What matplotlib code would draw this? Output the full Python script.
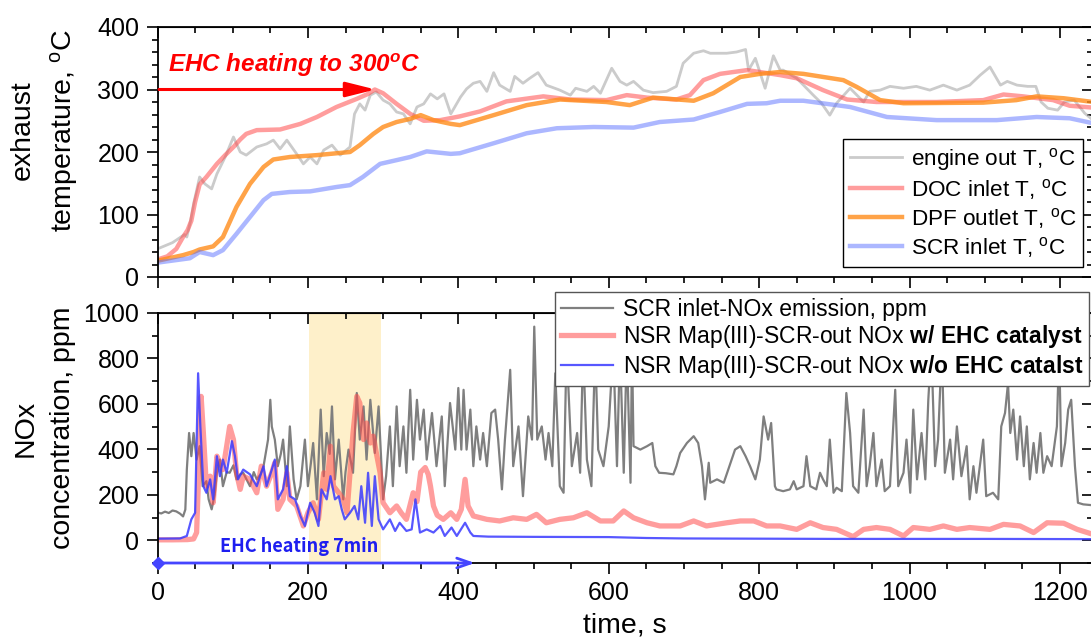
import numpy as np
import matplotlib.pyplot as plt
from matplotlib.ticker import MultipleLocator, NullFormatter

plt.rcParams['font.family'] = ['Liberation Sans', 'DejaVu Sans']
plt.rcParams['mathtext.fontset'] = 'custom'
plt.rcParams['mathtext.rm'] = 'Liberation Sans'
plt.rcParams['mathtext.it'] = 'Liberation Sans:italic:bold'
plt.rcParams['mathtext.bf'] = 'Liberation Sans:bold'

# ---- exhaust temperatures (deg C) ----
t_eng = [0, 20, 36, 39, 44, 48, 56, 63, 72, 79, 90, 101, 110, 118, 132, 145, 154, 163, 172, 185,
         194, 203, 212, 221, 232, 243, 256, 262, 269, 276, 283, 291, 300, 309, 318, 327, 336, 345,
         354, 363, 372, 381, 390, 403, 411, 420, 429, 438, 447, 455, 469, 475, 486, 495, 506, 517,
         535, 549, 556, 571, 580, 589, 604, 615, 624, 633, 646, 659, 677, 690, 699, 713, 726, 735,
         757, 770, 782, 786, 795, 808, 819, 828, 832, 850, 859, 872, 883, 894, 903, 921, 930, 939,
         947, 961, 974, 992, 1009, 1027, 1045, 1063, 1080, 1094, 1107, 1121, 1130, 1143, 1157,
         1168, 1175, 1184, 1197, 1206, 1219, 1233, 1244]
T_eng = [45, 55, 68, 64, 90, 117, 160, 149, 141, 165, 192, 224, 200, 195, 208, 213, 219, 205, 219, 197,
         181, 192, 181, 203, 211, 195, 208, 261, 277, 267, 291, 296, 283, 277, 264, 261, 245, 272,
         277, 293, 285, 293, 261, 288, 301, 310, 313, 297, 327, 307, 297, 321, 310, 318, 327, 307,
         299, 291, 302, 297, 305, 294, 334, 313, 307, 313, 299, 295, 297, 305, 342, 358, 362, 358,
         358, 360, 364, 331, 350, 302, 354, 331, 331, 318, 307, 291, 278, 259, 278, 302, 291, 280,
         297, 299, 305, 302, 305, 299, 307, 299, 307, 323, 336, 307, 313, 307, 305,
         305, 280, 270, 267, 280, 283, 262, 251]

t_doc = [0, 13, 25, 34, 40, 45, 50, 56, 65, 79, 90, 101, 110, 118, 132, 163, 190, 212, 238, 265, 280,
         289, 300, 318, 336, 354, 376, 402, 429, 464, 513, 549, 597, 624, 651, 690, 708, 726, 748,
         784, 801, 828, 850, 885, 917, 956, 1036, 1098, 1125, 1151, 1191, 1213, 1244]
T_doc = [28, 33, 45, 64, 75, 90, 120, 148, 160, 181, 195, 208, 220, 229, 235, 236, 245, 256, 272, 285, 293,
         300, 294, 277, 261, 250, 251, 257, 265, 281, 289, 284, 283, 291, 287, 284, 291, 315, 325,
         331, 328, 323, 318, 299, 284, 280, 280, 283, 292, 289, 283, 274, 271]

t_dpf = [0, 34, 48, 56, 74, 87, 105, 123, 141, 154, 176, 212, 256, 269, 287, 300, 318, 336, 350, 367,
         390, 402, 447, 491, 535, 597, 628, 659, 713, 739, 775, 801, 828, 859, 912, 930, 961, 992,
         1098, 1142, 1169, 1205, 1244]
T_dpf = [26, 35, 40, 44, 49, 64, 112, 149, 176, 188, 192, 195, 200, 211, 229, 240, 248, 253, 259, 251,
         245, 243, 259, 275, 284, 280, 275, 287, 282, 294, 320, 325, 328, 325, 315, 304, 283, 278,
         279, 283, 289, 286, 280]

t_scr = [0, 43, 56, 74, 87, 105, 123, 141, 152, 176, 203, 238, 256, 273, 296, 318, 336, 358, 390, 402,
         447, 491, 531, 580, 633, 668, 713, 748, 784, 810, 828, 859, 921, 970, 1036, 1116, 1169,
         1213, 1244]
T_scr = [23, 30, 40, 35, 43, 69, 96, 123, 133, 136, 137, 144, 147, 160, 181, 187, 192, 201, 197, 198,
         214, 230, 238, 240, 239, 248, 252, 264, 277, 278, 282, 282, 272, 256, 251, 251, 256,
         254, 246]

# ---- NOx (ppm) ----
t_in = [0, 5, 10, 15, 20, 25, 30, 34, 37, 39, 42, 45, 48, 52, 56, 60, 65, 68, 72, 76, 79, 83, 87, 92,
        96, 101, 105, 110, 114, 118, 123, 128, 132, 137, 141, 147, 150, 152, 156, 160, 164, 167, 172,
        176, 181, 185, 190, 196, 200, 204, 207, 212, 217, 221, 225, 229, 232, 236, 241, 247, 250, 254,
        260, 265, 269, 274, 278, 283, 289, 294, 300, 304, 309, 313, 318, 322, 327, 331, 336, 340, 345,
        349, 354, 358, 365, 371, 378, 382, 389, 396, 400, 404, 407, 411, 416, 420, 424, 429, 433, 438,
        444, 449, 453, 458, 462, 469, 473, 480, 486, 493, 498, 501, 505, 511, 516, 520, 525, 529, 535,
        540, 544, 551, 558, 562, 566, 571, 577, 582, 586, 593, 600, 606, 611, 615, 620, 624, 629, 631,
        633, 642, 651, 658, 662, 667, 676, 686, 690, 695, 704, 713, 719, 724, 728, 733, 735, 744, 753,
        762, 768, 775, 782, 788, 795, 801, 806, 812, 816, 821, 823, 832, 841, 846, 850, 859, 863, 868,
        876, 881, 885, 890, 894, 899, 903, 910, 916, 921, 925, 932, 939, 943, 947, 952, 956, 963, 967,
        974, 981, 985, 992, 996, 1001, 1005, 1010, 1016, 1021, 1025, 1029, 1034, 1038, 1043, 1047,
        1054, 1058, 1063, 1069, 1076, 1080, 1085, 1089, 1098, 1102, 1111, 1118, 1122, 1127, 1131,
        1134, 1138, 1143, 1147, 1152, 1156, 1160, 1165, 1169, 1174, 1178, 1183, 1189, 1196, 1199,
        1202, 1207, 1211, 1215, 1220, 1224, 1231, 1244]
nox_in = [122, 118, 126, 120, 131, 127, 117, 105, 135, 311, 472, 370, 472, 355, 414, 238, 260, 180, 136,
          200, 297, 355, 238, 300, 297, 330, 268, 290, 297, 270, 238, 300, 268, 290, 326, 443, 618, 500,
          443, 326, 380, 443, 238, 501, 268, 180, 238, 443, 238, 340, 428, 180, 575, 282, 472, 380, 589,
          268, 443, 180, 300, 399, 297, 648, 443, 589, 355, 618, 384, 589, 180, 282, 501, 238, 589, 326,
          501, 297, 662, 355, 618, 443, 575, 355, 560, 326, 545, 238, 604, 399, 670, 399, 662, 399, 575,
          326, 501, 355, 472, 326, 560, 575, 443, 224, 443, 750, 326, 501, 194, 545, 443, 940, 443, 501,
          355, 472, 326, 735, 238, 209, 850, 326, 472, 297, 850, 355, 238, 850, 399, 326, 501, 850, 326,
          850, 297, 850, 253, 850, 414, 399, 414, 428, 326, 297, 295, 290, 326, 384, 428, 458, 428, 326,
          180, 341, 253, 268, 253, 341, 399, 414, 370, 326, 268, 355, 545, 443, 516, 238, 224, 216, 224,
          260, 224, 238, 370, 238, 224, 297, 268, 238, 443, 209, 231, 216, 648, 472, 238, 209, 575, 238,
          326, 472, 238, 355, 216, 238, 662, 238, 297, 443, 209, 575, 268, 472, 268, 618, 850, 326, 443,
          850, 297, 443, 268, 501, 282, 414, 180, 326, 209, 443, 194, 209, 180, 501, 560, 691, 472, 575,
          355, 545, 326, 501, 268, 428, 297, 472, 297, 370, 326, 501, 850, 326, 428, 575, 618, 326, 165,
          158, 154]

t_ehc = [0, 20, 40, 48, 52, 56, 58, 61, 65, 70, 74, 79, 83, 87, 92, 96, 101, 105, 110, 114, 123, 132,
         138, 145, 152, 156, 160, 167, 172, 176, 185, 194, 200, 207, 214, 221, 225, 230, 234, 241, 247,
         252, 256, 260, 265, 269, 274, 278, 283, 287, 291, 296, 300, 309, 318, 324, 331, 340, 345, 350,
         356, 360, 363, 367, 372, 380, 390, 398, 404, 409, 413, 420, 438, 455, 473, 491, 504, 517, 535,
         553, 571, 589, 606, 620, 633, 651, 668, 695, 713, 730, 757, 775, 793, 810, 828, 850, 868, 885,
         903, 925, 939, 956, 974, 992, 1005, 1027, 1045, 1063, 1080, 1107, 1125, 1147, 1165, 1183,
         1205, 1223, 1244]
nox_ehc = [2, 2, 3, 6, 34, 414, 633, 472, 238, 282, 165, 370, 341, 311, 414, 501, 443, 297, 224, 282,
           268, 209, 326, 238, 297, 341, 136, 180, 297, 180, 151, 63, 121, 165, 92, 297, 224, 414, 238,
           209, 180, 121, 297, 472, 633, 604, 443, 516, 428, 458, 384, 297, 165, 121, 151, 121, 92, 209,
           170, 300, 320, 290, 238, 151, 110, 92, 121, 92, 136, 268, 151, 107, 92, 85, 99, 92, 114, 77,
           92, 99, 121, 85, 85, 129, 99, 77, 63, 63, 85, 63, 77, 85, 85, 63, 63, 48, 77, 56, 48, 16, 48,
           56, 48, 19, 56, 48, 63, 48, 56, 48, 70, 63, 34, 77, 75, 48, 26]

t_noehc = [0, 30, 39, 45, 50, 54, 57, 61, 65, 70, 74, 79, 83, 87, 92, 99, 103, 107, 114, 123, 132, 141,
           145, 152, 156, 160, 167, 172, 176, 183, 190, 196, 203, 209, 214, 218, 225, 230, 236, 241,
           245, 249, 256, 262, 267, 271, 276, 280, 285, 289, 294, 300, 309, 316, 322, 331, 338, 343,
           349, 358, 367, 376, 382, 391, 398, 409, 416, 420, 440, 500, 600, 650, 700, 800, 900, 1000,
           1100, 1244]
nox_noehc = [7, 8, 19, 92, 121, 735, 501, 238, 209, 268, 180, 370, 282, 355, 297, 436, 370, 268, 311,
             290, 238, 326, 238, 311, 355, 180, 224, 326, 194, 180, 107, 63, 165, 121, 63, 224, 180,
             282, 180, 194, 136, 92, 121, 151, 92, 238, 77, 297, 63, 282, 92, 48, 92, 41, 77, 41, 48,
             180, 34, 48, 34, 63, 19, 56, 19, 77, 34, 19, 16, 15, 14, 10, 8, 7, 6, 6, 6, 5]

W, H = 1091, 642
fig = plt.figure(figsize=(W / 100, H / 100), dpi=100)
left = 157.5 / W
width = (1093 - 157.5) / W
ax1 = fig.add_axes([left, 1 - 277 / H, width, 250 / H])
ax2 = fig.add_axes([left, 1 - 563 / H, width, 250 / H])


def style(ax, ymaj, ymin):
    ax.xaxis.set_major_locator(MultipleLocator(200))
    ax.xaxis.set_minor_locator(MultipleLocator(50))
    ax.yaxis.set_major_locator(MultipleLocator(ymaj))
    ax.yaxis.set_minor_locator(MultipleLocator(ymin))
    ax.tick_params(which='major', direction='out', length=8, width=1.2, labelsize=18, pad=5)
    ax.tick_params(which='minor', direction='out', length=4.5, width=1.2)
    for s in ax.spines.values():
        s.set_linewidth(1.3)
    sx = ax.secondary_xaxis('top')
    sx.xaxis.set_major_locator(MultipleLocator(200))
    sx.xaxis.set_minor_locator(MultipleLocator(50))
    sx.xaxis.set_major_formatter(NullFormatter())
    sx.tick_params(which='major', direction='in', length=8, width=1.2)
    sx.tick_params(which='minor', direction='in', length=4.5, width=1.2)
    sy = ax.secondary_yaxis('right')
    sy.yaxis.set_major_locator(MultipleLocator(ymaj))
    sy.yaxis.set_minor_locator(MultipleLocator(ymin))
    sy.yaxis.set_major_formatter(NullFormatter())
    sy.tick_params(which='major', direction='in', length=8, width=1.2)
    sy.tick_params(which='minor', direction='in', length=4.5, width=1.2)


# ---- top panel ----
ax1.plot(t_eng, T_eng, color='#b5b5b5', lw=2, alpha=0.7, label='engine out T, $^\\mathrm{o}$C')
ax1.plot(t_doc, T_doc, color='#ff4d4d', lw=3.2, alpha=0.55, label='DOC inlet T, $^\\mathrm{o}$C')
ax1.plot(t_dpf, T_dpf, color='#ff8c1a', lw=3.2, alpha=0.8, label='DPF outlet T, $^\\mathrm{o}$C')
ax1.plot(t_scr, T_scr, color='#5a70ff', lw=3.2, alpha=0.5, label='SCR inlet T, $^\\mathrm{o}$C')
ax1.set_xlim(0, 1244)
ax1.set_ylim(0, 400)
style(ax1, 100, 20)
ax1.tick_params(labelbottom=False)
ax1.annotate('', xy=(290, 300), xytext=(2, 300),
             arrowprops=dict(arrowstyle='-|>,head_length=1.8,head_width=0.45', color='red',
                             lw=2.2, shrinkA=0, shrinkB=0))
ax1.text(14, 339, 'EHC heating to 300$^o$C', color='red', fontsize=17.5, fontweight='bold',
         fontstyle='italic', va='center')
ax1.legend(loc='upper right', bbox_to_anchor=(1083 / W, 1 - 139 / H), bbox_transform=fig.transFigure,
           fontsize=16.2, frameon=True, fancybox=False, edgecolor='black', framealpha=1,
           borderaxespad=0, labelspacing=0.18, handlelength=2.3, borderpad=0.3, handletextpad=0.4)

# ---- bottom panel ----
ax2.axvspan(202, 297, color='#fef0ca', lw=0, zorder=0)
ax2.plot(t_in, nox_in, color='#7f7f7f', lw=1.6, label='SCR inlet-NOx emission, ppm')
ax2.plot(t_ehc, nox_ehc, color='#ff4d4d', lw=3.8, alpha=0.55,
         label='NSR Map(III)-SCR-out NOx $\\mathbf{w/\\ EHC\\ catalyst}$')
ax2.plot(t_noehc, nox_noehc, color='#3a3aff', lw=1.6, alpha=0.85,
         label='NSR Map(III)-SCR-out NOx $\\mathbf{w/o\\ EHC\\ catalst}$')
ax2.set_xlim(0, 1244)
ax2.set_ylim(-100, 1000)
style(ax2, 200, 100)
ax2.annotate('', xy=(422, -100), xytext=(0, -100), annotation_clip=False,
             arrowprops=dict(arrowstyle='->,head_length=1.0,head_width=0.35', color='#4545ff',
                             lw=2, shrinkA=0, shrinkB=0))
ax2.plot([0], [-100], marker='D', ms=6, color='#4545ff', clip_on=False, zorder=5)
ax2.text(188, -26, 'EHC heating 7min', color='#1e1ef0', fontsize=13, fontweight='bold',
         family=['Noto Sans CJK KR', 'DejaVu Sans'], ha='center', va='center')
ax2.set_xlabel('time, s', fontsize=20.5, labelpad=5)
ax2.legend(loc='upper left', bbox_to_anchor=(555 / W, 1 - 292 / H), bbox_transform=fig.transFigure,
           fontsize=16.5, frameon=True, fancybox=False, edgecolor='#555555', framealpha=1,
           borderaxespad=0, labelspacing=0.12, handlelength=2.3, borderpad=0.25, handletextpad=0.4)

fig.text(45 / W, 1 - 130 / H, 'exhaust\ntemperature, $^\\mathrm{o}$C', rotation=90, fontsize=20.5,
         ha='center', va='center', multialignment='center', linespacing=1.55)
fig.text(44 / W, 1 - 428 / H, 'NOx\nconcentration, ppm', rotation=90, fontsize=20.5,
         ha='center', va='center', multialignment='center', linespacing=1.55)

fig.savefig('out.png', dpi=100)
